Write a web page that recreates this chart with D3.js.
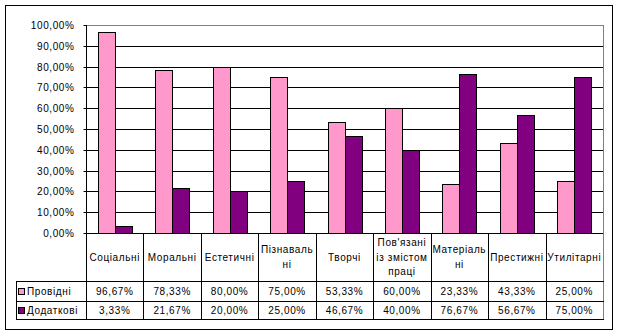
<!DOCTYPE html>
<html><head><meta charset="utf-8">
<script src="https://cdn.jsdelivr.net/npm/d3@7"></script>
<style>
body{margin:0;background:#fff;}
text{font-family:"Liberation Sans",Arial,sans-serif;font-size:10px;fill:#000;letter-spacing:0.6px;}
</style></head><body>
<svg id="c" width="620" height="336"></svg>
<script>
const categories = [["Соціальні"],["Моральні"],["Естетичні"],["Пізнаваль","ні"],["Творчі"],["Пов'язані","із змістом","праці"],["Матеріаль","ні"],["Престижні"],["Утилітарні"]];
const catKeys = categories.map(c=>c.join(" "));
const seriesNames = ["Провідні","Додаткові"];
const providni = [96.67,78.33,80.00,75.00,53.33,60.00,23.33,43.33,25.00];
const dodatkovi = [3.33,21.67,20.00,25.00,46.67,40.00,76.67,56.67,75.00];
const seriesValues = [providni, dodatkovi];
const colors = ["#FF99CC","#800080"];
const yTicks = [0,10,20,30,40,50,60,70,80,90,100];

const svg = d3.select("#c");
const L=86, R=603, T=25, B=233;
const rowCat=281, row1=301, row2=319, legL=16;
const fmt = v => d3.format(".2f")(v).replace(".",",")+"%";

svg.append("rect").attr("x",5.5).attr("y",5.5).attr("width",607).attr("height",324)
  .attr("fill","#fff").attr("stroke","#000");

const x = d3.scaleBand().domain(catKeys).range([L,R]).padding(0);
const xs = d3.scaleBand().domain([0,1]).range([0,x.bandwidth()]).paddingInner(0).paddingOuter(0.69);
const y = d3.scaleLinear().domain([0,100]).range([B,T]);

// gridlines
svg.append("g").selectAll("line").data(yTicks.filter(t=>t>0)).join("line")
  .attr("x1",L).attr("x2",R).attr("y1",d=>Math.round(y(d))+0.5).attr("y2",d=>Math.round(y(d))+0.5)
  .attr("stroke",d=>d===100?"#808080":"#000");
svg.append("line").attr("x1",R+0.5).attr("x2",R+0.5).attr("y1",T).attr("y2",B).attr("stroke","#808080");

// y axis
const yAxis = d3.axisLeft(y).tickValues(yTicks).tickSize(3).tickPadding(9).tickFormat(d=>fmt(d));
const ga = svg.append("g").attr("transform",`translate(${L+0.5},0)`).call(yAxis);
ga.select(".domain").remove();
ga.selectAll(".tick line").attr("stroke","#000");
ga.selectAll(".tick").attr("transform",d=>`translate(0,${Math.round(y(d))+0.5})`);
ga.selectAll("text").attr("font-family",null).attr("font-size",null).style("fill","#000");
ga.attr("font-family",null).attr("font-size",null);
svg.append("line").attr("x1",L+0.5).attr("x2",L+0.5).attr("y1",T).attr("y2",row2).attr("stroke","#000");

// bars
seriesValues.forEach((vals,si)=>{
  svg.append("g").selectAll("rect").data(vals).join("rect")
    .attr("x",(d,i)=>Math.round(x(catKeys[i])+xs(si))+0.5)
    .attr("width",Math.round(xs.bandwidth()))
    .attr("y",d=>Math.round(y(d))+0.5)
    .attr("height",d=>Math.round(y(0))-Math.round(y(d)))
    .attr("fill",colors[si]).attr("stroke","#000");
});

// x axis line
svg.append("line").attr("x1",L).attr("x2",R+1).attr("y1",B+0.5).attr("y2",B+0.5).attr("stroke","#000");

// table vertical lines
const bounds = catKeys.map(k=>x(k)).concat([R]);
svg.append("g").selectAll("line").data(bounds.slice(1)).join("line")
  .attr("x1",d=>Math.round(d)+0.5).attr("x2",d=>Math.round(d)+0.5).attr("y1",B).attr("y2",row2)
  .attr("stroke",(d,i)=>i===bounds.length-2?"#808080":"#000");
// horizontal table lines
[[rowCat,legL],[row1,legL],[row2,legL]].forEach(([yy,x0])=>{
  svg.append("line").attr("x1",x0).attr("x2",R+1).attr("y1",yy+0.5).attr("y2",yy+0.5).attr("stroke","#000");
});
svg.append("line").attr("x1",legL+0.5).attr("x2",legL+0.5).attr("y1",rowCat).attr("y2",row2).attr("stroke","#000");

// category labels
const lh=14.5;
const cg = svg.append("g").selectAll("text").data(categories).join("text")
  .attr("text-anchor","middle")
  .attr("x",(d,i)=>x(catKeys[i])+x.bandwidth()/2)
  .attr("y",d=>(B+rowCat)/2 - (d.length-1)*lh/2 + 3.5);
cg.selectAll("tspan").data(d=>d).join("tspan")
  .attr("x",function(){return this.parentNode.getAttribute("x");})
  .attr("dy",(d,i)=>i===0?0:lh).text(d=>d);

// values
const rows=[[rowCat,row1],[row1,row2]];
seriesValues.forEach((vals,si)=>{
  const cy=(rows[si][0]+rows[si][1])/2+4;
  svg.append("g").selectAll("text").data(vals).join("text")
    .attr("text-anchor","middle")
    .attr("x",(d,i)=>x(catKeys[i])+x.bandwidth()/2)
    .attr("y",cy).text(d=>fmt(d));
  svg.append("rect").attr("x",18.5).attr("y",Math.round(cy-4-3.5)+0.5).attr("width",6).attr("height",6)
    .attr("fill",colors[si]).attr("stroke","#000");
  svg.append("text").attr("x",27).attr("y",cy).text(seriesNames[si]);
});
</script></body></html>
